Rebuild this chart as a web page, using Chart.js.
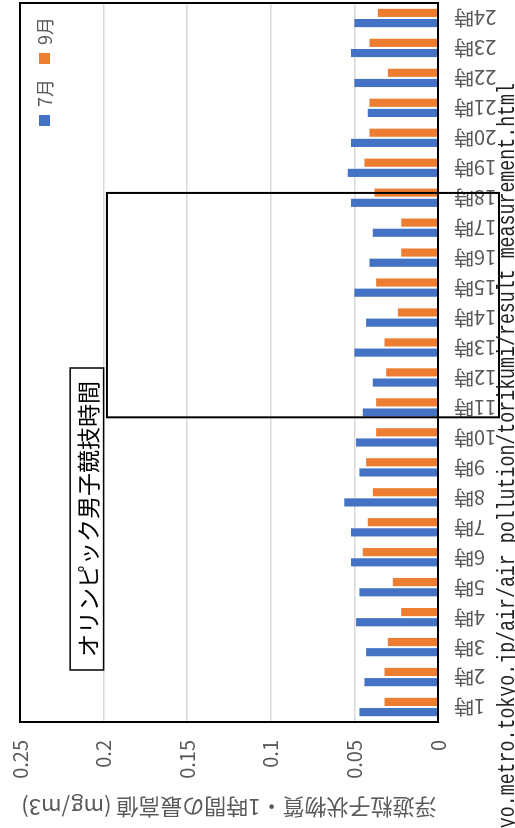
<!DOCTYPE html>
<html lang="ja">
<head>
<meta charset="utf-8">
<script src="https://cdn.jsdelivr.net/npm/chart.js@4/dist/chart.umd.min.js"></script>
<style>
  html, body { margin: 0; padding: 0; background: #fff; overflow: hidden; width: 515px; height: 828px; }
  /* the chart is laid out landscape and turned a quarter turn counter-clockwise */
  #wrap { position: absolute; left: 0; top: 0; width: 828px; height: 515px;
          transform-origin: 0 0; transform: translateY(828px) rotate(-90deg); }
  canvas { display: block; }
</style>
</head>
<body>
<div id="wrap"><canvas id="chart" width="828" height="515"></canvas></div>
<script>
// 時刻（カテゴリ）
const hours = ['1時','2時','3時','4時','5時','6時','7時','8時','9時','10時','11時','12時',
               '13時','14時','15時','16時','17時','18時','19時','20時','21時','22時','23時','24時'];
// 浮遊粒子状物質 1時間値の最高値 (mg/m3)
const julyMax = [0.047, 0.044, 0.043, 0.049, 0.047, 0.052, 0.052, 0.056, 0.047, 0.049, 0.045, 0.039,
                 0.050, 0.043, 0.050, 0.041, 0.039, 0.052, 0.054, 0.052, 0.042, 0.050, 0.052, 0.050];
const septemberMax = [0.032, 0.032, 0.030, 0.022, 0.027, 0.045, 0.042, 0.039, 0.043, 0.037, 0.037, 0.031,
                      0.032, 0.024, 0.037, 0.022, 0.022, 0.038, 0.044, 0.041, 0.041, 0.030, 0.041, 0.036];
const seriesNames = ['7月', '9月'];
const valueTicks = [0, 0.05, 0.1, 0.15, 0.2, 0.25];
const valueTickLabels = ['0', '0.05', '0.1', '0.15', '0.2', '0.25'];
const axisTitle = '浮遊粒子状物質・1時間の最高値 (mg/m3)';
const noteText = 'オリンピック男子競技時間';
const sourceText = 'https://www.kankyo.metro.tokyo.jp/air/air_pollution/torikumi/result_measurement.html';

const JP = '"Noto Sans CJK JP", "Noto Sans", sans-serif';
const GREY = '#595959';

// frame, legend inside the plot, highlighted competition hours, note box and source line
const decorations = {
  id: 'decorations',
  afterDraw(chart) {
    const { ctx, chartArea: a, scales: { x, y } } = chart;
    ctx.save();

    ctx.strokeStyle = '#000';
    ctx.lineWidth = 2;
    ctx.strokeRect(a.left, a.top, a.right - a.left, a.bottom - a.top);

    // legend, right-aligned in the upper corner of the plot
    ctx.font = '18px ' + JP;
    ctx.textBaseline = 'middle';
    ctx.textAlign = 'left';
    let lx = a.right - 14;
    const ly = a.top + 24.5;
    const items = chart.data.datasets.slice().reverse();
    items.forEach(ds => {
      const w = ctx.measureText(ds.label).width;
      ctx.fillStyle = GREY;
      ctx.fillText(ds.label, lx - w, ly + 1);
      const bx = lx - w - 8 - 11;
      ctx.fillStyle = ds.backgroundColor;
      ctx.fillRect(bx, ly - 5.5, 11, 11);
      lx = bx - 15;
    });

    const step = x.getPixelForValue(1) - x.getPixelForValue(0);
    const hl = x.getPixelForValue(hours.indexOf('11時')) - step * 0.33;
    const hr = x.getPixelForValue(hours.indexOf('18時')) + step * 0.16;
    const ht = y.getPixelForValue(0.198);
    const hb = a.bottom + 61;
    ctx.strokeStyle = '#000';
    ctx.lineWidth = 2;
    ctx.strokeRect(hl, ht, hr - hl, hb - ht);

    const nl = a.left + 52, nr = a.left + 354;
    const nt = y.getPixelForValue(0.22), nb = y.getPixelForValue(0.2);
    ctx.fillStyle = '#fff';
    ctx.fillRect(nl, nt, nr - nl, nb - nt);
    ctx.lineWidth = 1.5;
    ctx.strokeRect(nl, nt, nr - nl, nb - nt);
    ctx.fillStyle = '#000';
    ctx.font = '23px ' + JP;
    ctx.textAlign = 'center';
    ctx.textBaseline = 'middle';
    ctx.fillText(noteText, (nl + nr) / 2, (nt + nb) / 2 + 1);

    ctx.save();
    ctx.translate(745, 514);
    ctx.scale(0.794, 1);
    ctx.font = '23px "Liberation Mono", monospace';
    ctx.fillStyle = '#222';
    ctx.textAlign = 'right';
    ctx.textBaseline = 'alphabetic';
    ctx.fillText(sourceText, 0, 0);
    ctx.restore();

    ctx.restore();
  }
};

new Chart(document.getElementById('chart'), {
  type: 'bar',
  data: {
    labels: hours,
    datasets: [
      { label: seriesNames[0], data: julyMax, backgroundColor: '#4472C4', borderWidth: 0 },
      { label: seriesNames[1], data: septemberMax, backgroundColor: '#ED7D31', borderWidth: 0 }
    ]
  },
  options: {
    responsive: false,
    animation: false,
    devicePixelRatio: 1,
    layout: { padding: { left: 0, right: 3, top: 20, bottom: 0 } },
    datasets: { bar: { categoryPercentage: 0.68, barPercentage: 0.8 } },
    plugins: {
      legend: { display: false },
      tooltip: { enabled: false }
    },
    scales: {
      x: {
        grid: { display: false, drawTicks: false },
        border: { display: false },
        ticks: {
          autoSkip: false, minRotation: 90, maxRotation: 90, padding: 16,
          color: GREY, font: { family: JP, size: 20 }
        },
        afterFit(s) { s.height = 77; s.paddingLeft = 0; s.paddingRight = 0; }
      },
      y: {
        min: 0, max: 0.25,
        grid: { color: '#D9D9D9', lineWidth: 1.5, drawTicks: false },
        border: { display: false },
        afterBuildTicks(s) { s.ticks = valueTicks.map(v => ({ value: v })); },
        ticks: {
          padding: 18, color: GREY, font: { family: JP, size: 20 },
          callback: (v, i) => valueTickLabels[i]
        },
        title: {
          display: true, text: axisTitle, color: GREY,
          font: { family: JP, size: 22 }, padding: { top: 7, bottom: 0 }
        },
        afterFit(s) { s.width = 106; s.paddingTop = 0; s.paddingBottom = 0; }
      }
    }
  },
  plugins: [decorations]
});
</script>
</body>
</html>
